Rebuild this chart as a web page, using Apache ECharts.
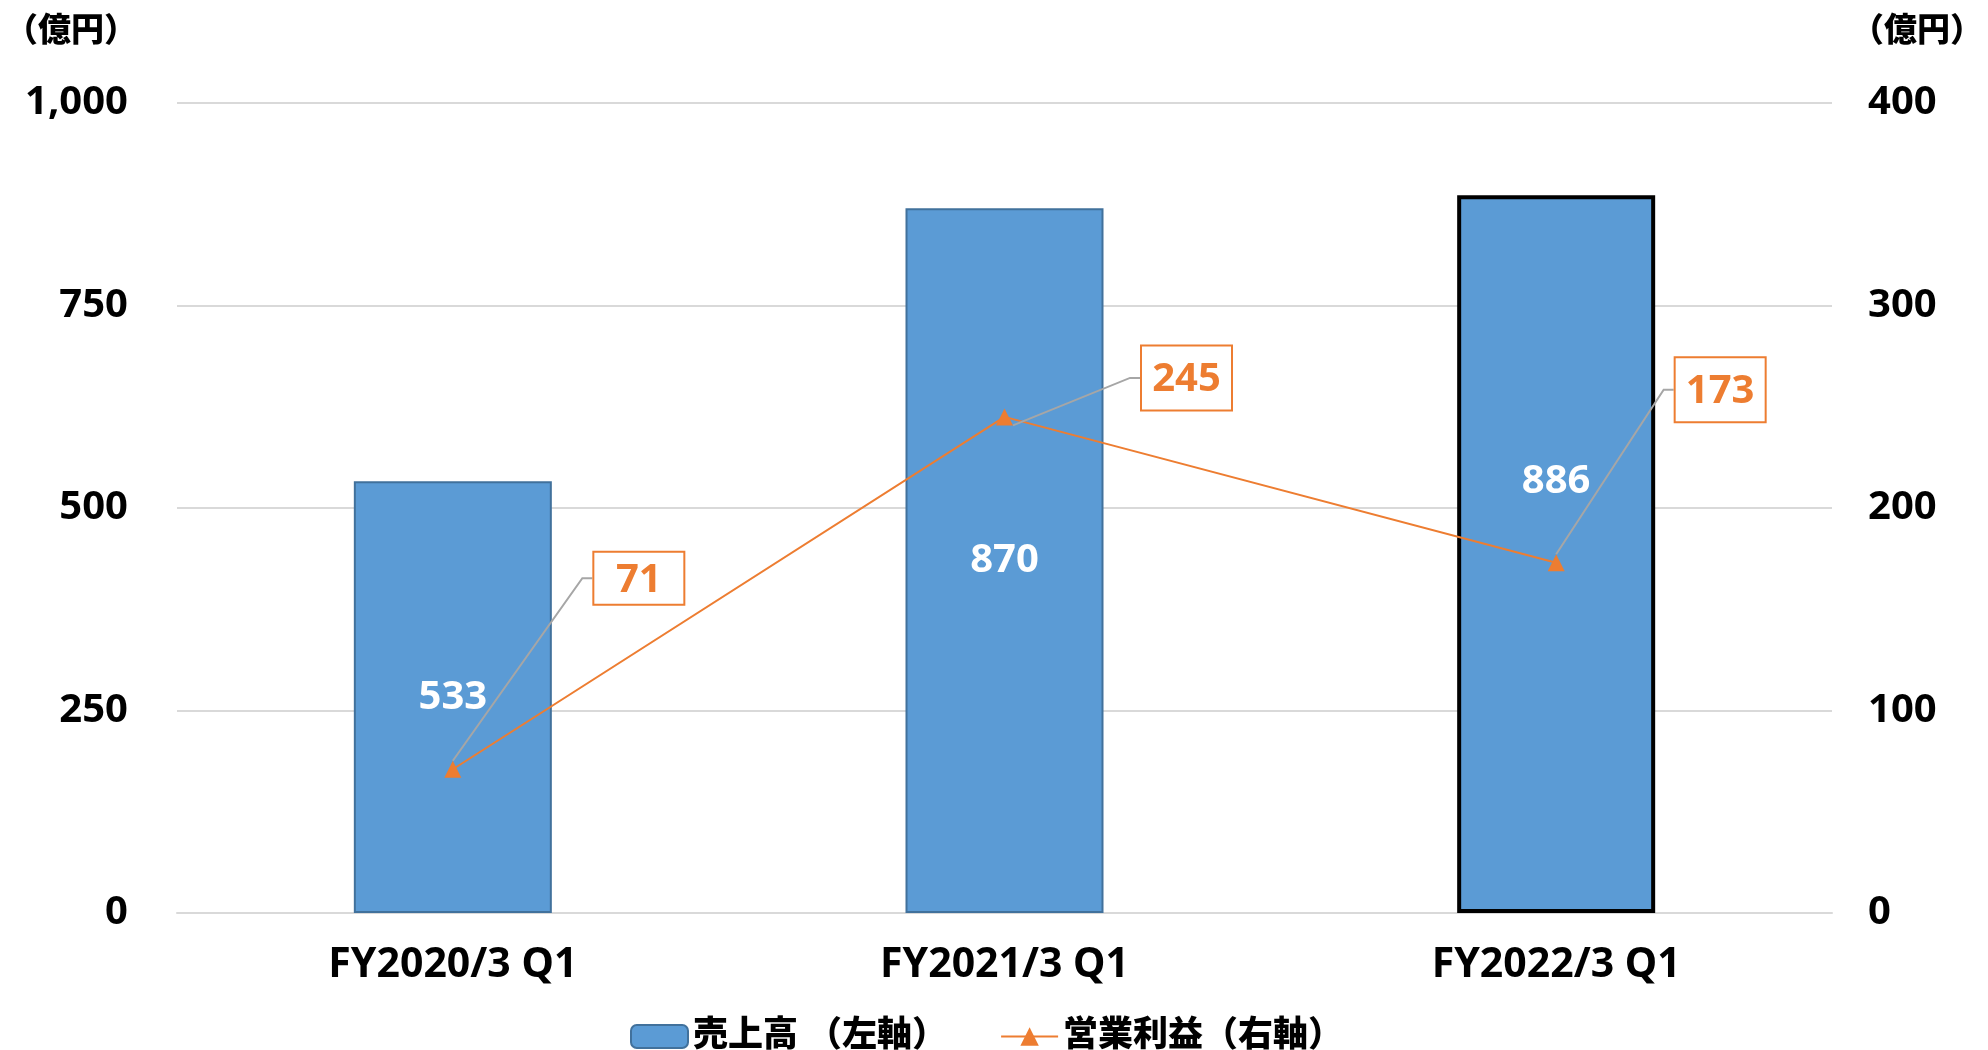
<!DOCTYPE html>
<html>
<head>
<meta charset="utf-8">
<script src="https://cdn.jsdelivr.net/npm/echarts@6/dist/echarts.min.js"></script>
<style>
  html, body { margin: 0; padding: 0; background: #fff; }
  #chart { width: 1988px; height: 1050px; }
</style>
</head>
<body>
<div id="chart"></div>
<script>
const categories = ['FY2020/3 Q1', 'FY2021/3 Q1', 'FY2022/3 Q1'];
const sales = [533, 870, 886];          // 売上高（左軸）
const profit = [71, 245, 173];          // 営業利益（右軸）
const leftTicks = [0, 250, 500, 750, 1000];
const rightTicks = [0, 100, 200, 300, 400];

// callout box shifts / vertical padding for the profit labels
const profitLabelShift = [[186, -157], [182, 1], [164, -133]];
const profitLabelPadV = [4, 10, 10];

const FONT = '"Noto Sans", "Noto Sans CJK JP", sans-serif';
const chart = echarts.init(document.getElementById('chart'));

const barData = sales.map((v, i) => {
  if (i === 2) {
    // 最新期は黒枠で強調
    return { value: v, itemStyle: { borderColor: '#000', borderWidth: 4 }, label: { offset: [0, -73] } };
  }
  return v;
});

const lineData = profit.map((v, i) => ({
  value: v,
  label: { padding: [profitLabelPadV[i] + 2, 0, profitLabelPadV[i] - 2, 0] }
}));

const titleStyle = { fontFamily: FONT, fontSize: 33, fontWeight: 900, color: '#000' };

const option = {
  animation: false,
  title: [
    { text: '（億円）', left: 0, top: 10, textStyle: titleStyle },
    { text: '（億円）', right: 0, top: 10, textStyle: titleStyle }
  ],
  grid: { left: 177, right: 156, top: 103, bottom: 137 },
  legend: {
    left: 625,
    top: 1014,
    itemWidth: 57,
    itemHeight: 23,
    itemGap: 53,
    textStyle: { fontFamily: FONT, fontSize: 35, fontWeight: 900, color: '#000' },
    data: ['売上高 （左軸）', '営業利益（右軸）']
  },
  xAxis: {
    type: 'category',
    data: categories,
    axisTick: { show: false },
    axisLine: { lineStyle: { color: '#D9D9D9', width: 2 } },
    axisLabel: { margin: 32, fontFamily: FONT, fontSize: 41, fontWeight: 'bold', color: '#000' }
  },
  yAxis: [
    {
      type: 'value',
      min: leftTicks[0],
      max: leftTicks[leftTicks.length - 1],
      interval: leftTicks[1] - leftTicks[0],
      axisLine: { show: false },
      axisTick: { show: false },
      splitLine: { lineStyle: { color: '#D9D9D9', width: 2 } },
      axisLabel: {
        margin: 49,
        fontFamily: FONT, fontSize: 40, fontWeight: 'bold', color: '#000',
        formatter: v => v.toLocaleString('en-US')
      }
    },
    {
      type: 'value',
      min: rightTicks[0],
      max: rightTicks[rightTicks.length - 1],
      interval: rightTicks[1] - rightTicks[0],
      axisLine: { show: false },
      axisTick: { show: false },
      splitLine: { show: false },
      axisLabel: { margin: 36, fontFamily: FONT, fontSize: 40, fontWeight: 'bold', color: '#000' }
    }
  ],
  series: [
    {
      name: '売上高 （左軸）',
      type: 'bar',
      yAxisIndex: 0,
      barWidth: 198,
      data: barData,
      itemStyle: { color: '#5B9BD5', borderColor: '#41719C', borderWidth: 2 },
      label: {
        show: true,
        position: 'inside',
        fontFamily: FONT, fontSize: 40, fontWeight: 'bold', color: '#fff'
      }
    },
    {
      name: '営業利益（右軸）',
      type: 'line',
      yAxisIndex: 1,
      data: lineData,
      symbol: 'triangle',
      symbolSize: [17, 17],
      itemStyle: { color: '#ED7D31' },
      lineStyle: { color: '#ED7D31', width: 2 },
      label: {
        show: true,
        position: 'top',
        distance: 0,
        width: 89,
        align: 'center',
        lineHeight: 43,
        fontFamily: FONT, fontSize: 40, fontWeight: 'bold', color: '#ED7D31',
        backgroundColor: '#fff',
        borderColor: '#ED7D31',
        borderWidth: 2
      },
      labelLine: {
        show: true,
        length2: 10,
        lineStyle: { color: '#A6A6A6', width: 2 }
      },
      labelLayout: params => ({
        dx: profitLabelShift[params.dataIndex][0],
        dy: profitLabelShift[params.dataIndex][1]
      }),
      z: 5
    }
  ]
};

chart.setOption(option);
</script>
</body>
</html>
